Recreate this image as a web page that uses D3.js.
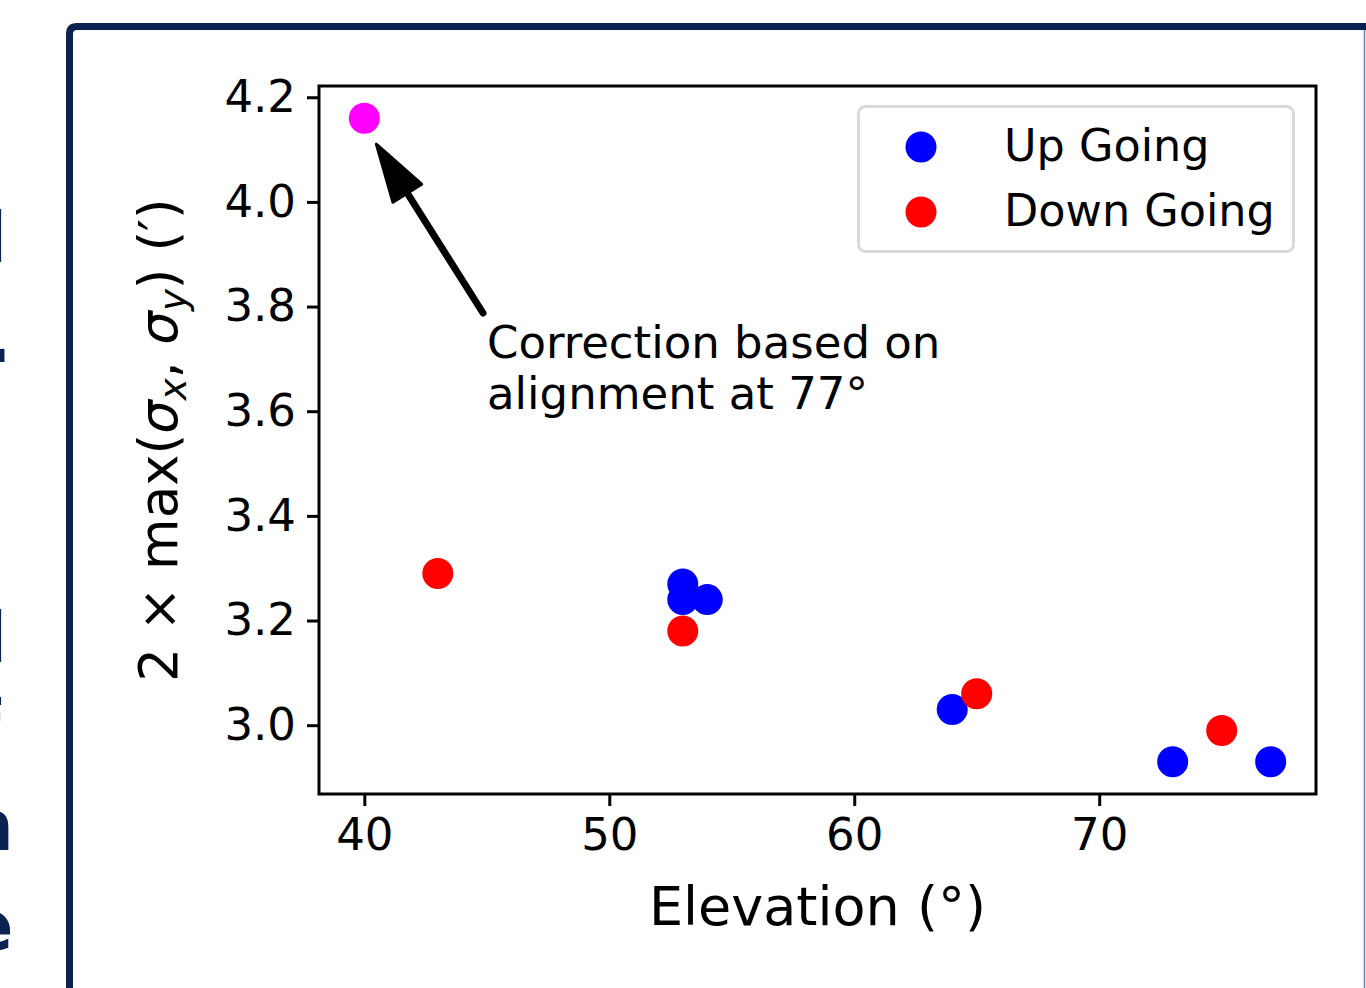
<html>
<head>
<style>
  body { margin: 0; background: #fff; font-family: "DejaVu Sans", sans-serif; overflow: hidden; }
  svg { display: block; }
</style>
<script src="https://cdn.jsdelivr.net/npm/d3@7/dist/d3.min.js"></script>
</head>
<body>
<svg id="chart"></svg>
<script>
// data
let upElev = [53, 53, 54, 64, 73, 77];
let upSigma = [3.27, 3.24, 3.24, 3.03, 2.93, 2.93];
let downElev = [43, 53, 65, 75];
let downSigma = [3.29, 3.18, 3.06, 2.99];
let corrElev = [40];
let corrSigma = [4.16];
let xTicks = [40, 50, 60, 70];
let yTicks = [3.0, 3.2, 3.4, 3.6, 3.8, 4.0, 4.2];
let legendLabels = ["Up Going", "Down Going"];
let legendColors = ["#0000ff", "#ff0000"];

let width = 1366, height = 988;
let margin = { left: 319, right: 1316, top: 86, bottom: 794 };
let navy = "#0b2350";

let svg = d3.select("#chart").attr("width", width).attr("height", height);

// poster frame around the figure
svg.append("path")
  .attr("d", "M69.5,995 L69.5,34 Q69.5,26.5 77,26.5 L1380,26.5")
  .attr("fill", "none").attr("stroke", navy).attr("stroke-width", 7);
svg.append("line").attr("x1", 1364.5).attr("x2", 1364.5).attr("y1", 30).attr("y2", 988)
  .attr("stroke", "#6a7fa8").attr("stroke-width", 1.5);

// cut-off glyphs of the neighbouring column on the left (only a sliver shows)
let edgeGlyphs = [["l", 262, -17], [".", 362, -15], ["l", 662, -17], ["f", 750, -30], ["n", 850, -36], ["e", 950, -34]];
svg.append("g").selectAll("text").data(edgeGlyphs).enter().append("text")
  .attr("x", d => d[2])
  .attr("y", d => d[1])
  .attr("font-size", 70).attr("font-weight", "bold").attr("fill", navy)
  .text(d => d[0]);

let x = d3.scaleLinear().domain([38.15, 78.85]).range([margin.left, margin.right]);
let y = d3.scaleLinear().domain([2.8685, 4.2215]).range([margin.bottom, margin.top]);

// axes
let xAxis = svg.append("g").attr("transform", `translate(0,${margin.bottom})`)
  .call(d3.axisBottom(x).tickValues(xTicks).tickSize(12).tickPadding(12).tickFormat(d3.format("d")));
let yAxis = svg.append("g").attr("transform", `translate(${margin.left},0)`)
  .call(d3.axisLeft(y).tickValues(yTicks).tickSize(12).tickPadding(11).tickFormat(d3.format(".1f")));
[xAxis, yAxis].forEach(a => {
  a.select(".domain").remove();
  a.selectAll(".tick line").attr("stroke", "#000").attr("stroke-width", 3);
  a.selectAll(".tick text").attr("font-family", "DejaVu Sans").attr("font-size", 45).attr("fill", "#000");
});

svg.append("rect")
  .attr("x", margin.left).attr("y", margin.top)
  .attr("width", margin.right - margin.left).attr("height", margin.bottom - margin.top)
  .attr("fill", "none").attr("stroke", "#000").attr("stroke-width", 3);

// axis labels
svg.append("text").attr("x", (margin.left + margin.right) / 2).attr("y", 925)
  .attr("text-anchor", "middle").attr("font-size", 54).text("Elevation (°)");

let yl = svg.append("text")
  .attr("transform", `translate(177,${(margin.top + margin.bottom) / 2}) rotate(-90)`)
  .attr("text-anchor", "middle").attr("font-size", 53);
yl.append("tspan").text("2 × max(");
yl.append("tspan").attr("font-style", "italic").text("σ");
yl.append("tspan").attr("font-style", "italic").attr("font-size", 37).attr("dy", 9).text("x");
yl.append("tspan").attr("dy", -9).text(", ");
yl.append("tspan").attr("font-style", "italic").text("σ");
yl.append("tspan").attr("font-style", "italic").attr("font-size", 37).attr("dy", 9).text("y");
yl.append("tspan").attr("dy", -9).text(") (′)");

// points
function drawPoints(xs, ys, color) {
  svg.append("g").selectAll("circle").data(xs).enter().append("circle")
    .attr("cx", d => x(d)).attr("cy", (d, i) => y(ys[i]))
    .attr("r", 15.5).attr("fill", color);
}
drawPoints(upElev, upSigma, legendColors[0]);
drawPoints(downElev, downSigma, legendColors[1]);
drawPoints(corrElev, corrSigma, "#ff00ff");

// annotation arrow
let tipX = x(corrElev[0]) + 12, tipY = y(corrSigma[0]) + 26;
let tailX = 483, tailY = 313;
let ang = Math.atan2(tipY - tailY, tipX - tailX);
let headLen = 58, headW = 17;
let bx = tipX - headLen * Math.cos(ang), by = tipY - headLen * Math.sin(ang);
svg.append("line").attr("x1", tailX).attr("y1", tailY).attr("x2", bx).attr("y2", by)
  .attr("stroke", "#000").attr("stroke-width", 7).attr("stroke-linecap", "round");
svg.append("path")
  .attr("d", `M${tipX},${tipY} L${bx + headW * Math.sin(ang)},${by - headW * Math.cos(ang)} L${bx - headW * Math.sin(ang)},${by + headW * Math.cos(ang)} Z`)
  .attr("fill", "#000").attr("stroke", "#000").attr("stroke-width", 3).attr("stroke-linejoin", "round");

let note = svg.append("text").attr("x", 487).attr("y", 358).attr("font-size", 45);
note.append("tspan").attr("x", 487).text("Correction based on");
note.append("tspan").attr("x", 487).attr("dy", 51).text("alignment at 77°");

// legend
svg.append("rect").attr("x", 858.5).attr("y", 106.5).attr("width", 435).attr("height", 145)
  .attr("rx", 7).attr("fill", "#fff").attr("stroke", "#d9d9d9").attr("stroke-width", 3);
let leg = svg.append("g").selectAll("g").data(legendLabels).enter().append("g")
  .attr("transform", (d, i) => `translate(0,${147 + i * 65})`);
leg.append("circle").attr("cx", 921).attr("cy", 0).attr("r", 15.5).attr("fill", (d, i) => legendColors[i]);
leg.append("text").attr("x", 1004).attr("y", 14).attr("font-size", 44.5).text(d => d);
</script>
</body>
</html>
